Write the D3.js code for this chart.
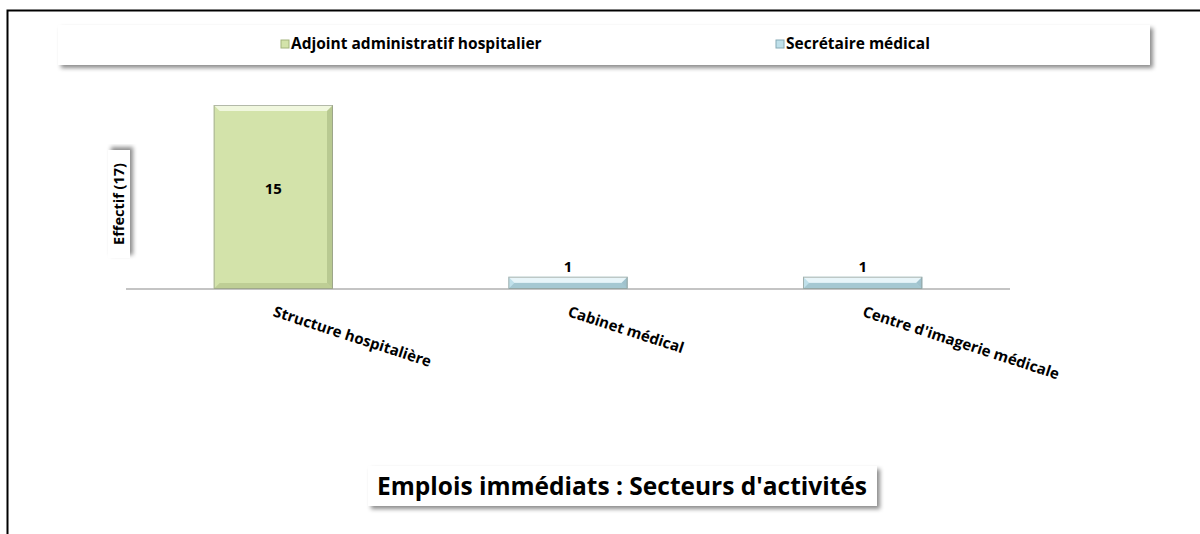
<!DOCTYPE html>
<html>
<head>
<meta charset="utf-8">
<script src="https://cdn.jsdelivr.net/npm/d3@7"></script>
<style>
  body { margin: 0; background: #fff; }
  svg { display: block; font-family: "Open Sans", Calibri, sans-serif; }
</style>
</head>
<body>
<div class="chart"></div>
<script>
var categories = ["Structure hospitalière", "Cabinet médical", "Centre d'imagerie médicale"];
var seriesNames = ["Adjoint administratif hospitalier", "Secrétaire médical"];
var adjointValues = [15, 0, 0];
var secretaireValues = [0, 1, 1];
var yTitle = "Effectif (17)";
var chartTitle = "Emplois immédiats : Secteurs d'activités";

var width = 1200;
var height = 534;

var colors = {
	"Adjoint administratif hospitalier": { fill: "#d3e3aa", light: "#f0f7de", dark: "#a3b47c" },
	"Secrétaire médical": { fill: "#bfe0ea", light: "#e8f5f9", dark: "#86aab5" }
};

var svg = d3.select(".chart")
	.append("svg")
	.attr("width", width)
	.attr("height", height);

var defs = svg.append("defs");
var shadow = defs.append("filter")
	.attr("id", "shadow")
	.attr("x", "-5%").attr("y", "-30%")
	.attr("width", "110%").attr("height", "170%");
shadow.append("feDropShadow")
	.attr("dx", 3).attr("dy", 3)
	.attr("stdDeviation", 2)
	.attr("flood-color", "#000")
	.attr("flood-opacity", 0.45);

// frame (top and left only)
svg.append("path")
	.attr("d", "M7.5,534 V10.5 H1200")
	.attr("fill", "none")
	.attr("stroke", "#000")
	.attr("stroke-width", 2);

// scales
var x = d3.scaleBand()
	.domain(categories)
	.range([126, 1010]);

var y = d3.scaleLinear()
	.domain([0, 15])
	.range([289, 105]);

var barW = x.bandwidth() * 0.405;

// build bar data from the series arrays
var bars = [];
categories.forEach(function(c, i) {
	if (adjointValues[i] > 0) bars.push({ cat: c, value: adjointValues[i], series: seriesNames[0] });
	if (secretaireValues[i] > 0) bars.push({ cat: c, value: secretaireValues[i], series: seriesNames[1] });
});

// axis line
svg.append("line")
	.attr("x1", x.range()[0]).attr("x2", x.range()[1])
	.attr("y1", y(0)).attr("y2", y(0))
	.attr("stroke", "#c4c4c4")
	.attr("stroke-width", 2);

// bars with a bevel look
var bar = svg.append("g")
	.selectAll("g")
	.data(bars)
	.enter()
	.append("g")
	.attr("transform", function(d) {
		return "translate(" + (x(d.cat) + x.bandwidth() / 2 - barW / 2) + "," + y(d.value) + ")";
	});

bar.each(function(d) {
	var g = d3.select(this);
	var h = y(0) - y(d.value);
	var c = colors[d.series];
	var b = Math.min(6, h / 2);
	g.append("rect")
		.attr("width", barW).attr("height", h)
		.attr("fill", c.fill);
	// top bevel
	g.append("path")
		.attr("d", "M0,0 H" + barW + " L" + (barW - b) + "," + b + " H" + b + " Z")
		.attr("fill", c.light);
	// right bevel
	g.append("path")
		.attr("d", "M" + barW + ",0 L" + (barW - b) + "," + b + " V" + (h - b) + " L" + barW + "," + h + " Z")
		.attr("fill", c.dark)
		.attr("opacity", 0.55);
	// bottom bevel
	g.append("path")
		.attr("d", "M0," + h + " L" + b + "," + (h - b) + " H" + (barW - b) + " L" + barW + "," + h + " Z")
		.attr("fill", c.dark)
		.attr("opacity", 0.45);
	g.append("rect")
		.attr("x", 0.5).attr("y", 0.5)
		.attr("width", barW - 1).attr("height", h - 1)
		.attr("fill", "none")
		.attr("stroke", "#8a8f85")
		.attr("stroke-opacity", 0.6);
});

// value labels
svg.append("g")
	.selectAll("text")
	.data(bars)
	.enter()
	.append("text")
	.attr("x", function(d) { return x(d.cat) + x.bandwidth() / 2; })
	.attr("y", function(d) {
		return d.value > 3 ? (y(d.value) + y(0)) / 2 - 3 : y(d.value) - 5;
	})
	.attr("text-anchor", "middle")
	.attr("font-size", 15)
	.attr("font-weight", "bold")
	.attr("fill", "#000")
	.text(function(d) { return d.value; });

// category labels, rotated
svg.append("g")
	.selectAll("text")
	.data(categories)
	.enter()
	.append("text")
	.attr("transform", function(d) {
		return "translate(" + (x(d) + x.bandwidth() / 2 - 1) + ",316) rotate(18)";
	})
	.attr("font-size", 15)
	.attr("font-weight", "bold")
	.attr("fill", "#000")
	.text(function(d) { return d; });

// y axis title box
var yt = svg.append("g").attr("transform", "translate(119,204) rotate(-90)");
yt.append("rect")
	.attr("x", -54).attr("y", -11)
	.attr("width", 108).attr("height", 22)
	.attr("fill", "#fff")
	.attr("filter", "url(#shadow)");
yt.append("text")
	.attr("text-anchor", "middle")
	.attr("dy", "0.35em")
	.attr("font-size", 14.5)
	.attr("font-weight", "bold")
	.text(yTitle);

// legend
var legend = svg.append("g");
legend.append("rect")
	.attr("x", 58).attr("y", 25)
	.attr("width", 1092).attr("height", 40)
	.attr("fill", "#fff")
	.attr("filter", "url(#shadow)");

var legendX = [281, 776];
var item = legend.selectAll(".item")
	.data(seriesNames)
	.enter()
	.append("g")
	.attr("class", "item")
	.attr("transform", function(d, i) { return "translate(" + legendX[i] + ",44)"; });

item.append("rect")
	.attr("x", 0).attr("y", -4)
	.attr("width", 8).attr("height", 8)
	.attr("fill", function(d) { return colors[d].fill; })
	.attr("stroke", function(d) { return colors[d].dark; });

item.append("text")
	.attr("x", 10)
	.attr("dy", "0.35em")
	.attr("font-size", 15.5)
	.attr("font-weight", "bold")
	.text(function(d) { return d; });

// chart title
var title = svg.append("g");
title.append("rect")
	.attr("x", 368).attr("y", 466)
	.attr("width", 509).attr("height", 40)
	.attr("fill", "#fff")
	.attr("filter", "url(#shadow)");
title.append("text")
	.attr("x", 622).attr("y", 486)
	.attr("dy", "0.35em")
	.attr("text-anchor", "middle")
	.attr("font-size", 24.5)
	.attr("font-weight", "bold")
	.text(chartTitle);
</script>
</body>
</html>
